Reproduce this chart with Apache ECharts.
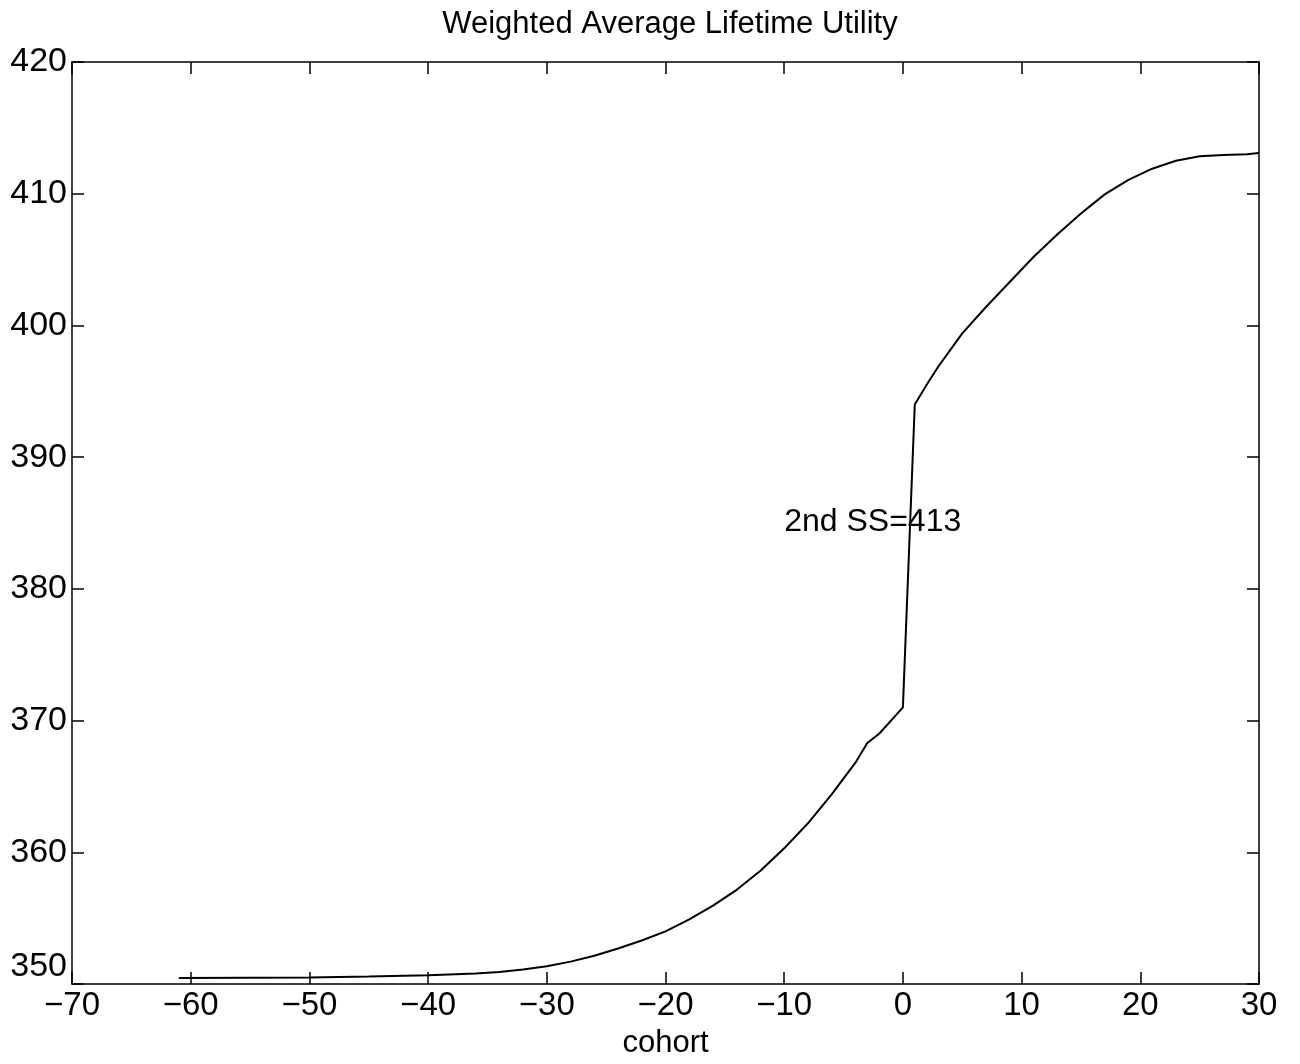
<!DOCTYPE html>
<html>
<head>
<meta charset="utf-8">
<title>Weighted Average Lifetime Utility</title>
<script src="https://cdn.jsdelivr.net/npm/echarts@6/dist/echarts.min.js"></script>
<style>
  html, body { margin: 0; padding: 0; background: #fff; }
  #chart { width: 1300px; height: 1064px; }
</style>
</head>
<body>
<div id="chart"></div>
<script>
// cohort (x) and utility (y)
var cohorts = [-61, -55, -50, -45, -40, -36, -34, -32, -30, -28, -26, -24, -22, -20, -18, -16, -14, -12, -10, -8, -6, -4, -3, -2, -1, 0,
  1, 2, 3, 5, 7, 9, 11, 13, 15, 17, 19, 21, 23, 25, 27, 29, 30]
var utility = [350.45, 350.47, 350.5, 350.56, 350.66, 350.8, 350.92, 351.1, 351.35, 351.7, 352.15, 352.7, 353.3, 354.0, 354.9, 355.95, 357.15, 358.6, 360.3, 362.2, 364.4, 366.8, 368.3, 369.0, 370.0, 371.0,
  394.0, 395.5, 396.9, 399.4, 401.4, 403.3, 405.2, 406.9, 408.5, 409.95, 411.05, 411.9, 412.5, 412.85, 412.93, 413.0, 413.1]

var xTicks = [-70, -60, -50, -40, -30, -20, -10, 0, 10, 20, 30]
var yTicks = [350, 360, 370, 380, 390, 400, 410, 420]

var titleText = 'Weighted Average Lifetime Utility'
var xLabel = 'cohort'
var noteText = '2nd SS=413'
var notePos = [-10, 385.1]

var font = 'Liberation Sans, Arial, Helvetica, sans-serif'

var points = cohorts.map(function(c, i) { return [c, utility[i]] })

function fmt(v) {
  return v < 0 ? '\u2212' + Math.abs(v) : String(v)
}

var tickStyle = { show: true, inside: true, length: 12, lineStyle: { color: '#000', width: 1.5 } }
var lineStyle = { color: '#000', width: 1.5 }

var option = {
  backgroundColor: '#fff',
  animation: false,
  title: {
    text: titleText,
    left: 665,
    textAlign: 'center',
    top: 4,
    textStyle: { fontFamily: font, fontSize: 31, fontWeight: 'normal', color: '#000' }
  },
  grid: { left: 72, right: 41, top: 62, bottom: 79 },
  xAxis: [
    {
      type: 'value',
      min: xTicks[0],
      max: xTicks[xTicks.length - 1],
      interval: 10,
      position: 'bottom',
      name: xLabel,
      nameLocation: 'middle',
      nameGap: 44,
      nameTextStyle: { fontFamily: font, fontSize: 31, color: '#000' },
      axisLine: { show: true, onZero: false, lineStyle: lineStyle },
      axisTick: tickStyle,
      axisLabel: { fontFamily: font, fontSize: 33, color: '#000', margin: 5, formatter: fmt },
      splitLine: { show: false }
    },
    {
      type: 'value',
      min: xTicks[0],
      max: xTicks[xTicks.length - 1],
      interval: 10,
      position: 'top',
      axisLine: { show: true, onZero: false, lineStyle: lineStyle },
      axisTick: tickStyle,
      axisLabel: { show: false },
      splitLine: { show: false }
    }
  ],
  yAxis: [
    {
      type: 'value',
      min: yTicks[0],
      max: yTicks[yTicks.length - 1],
      interval: 10,
      position: 'left',
      axisLine: { show: true, onZero: false, lineStyle: lineStyle },
      axisTick: tickStyle,
      axisLabel: {
        fontFamily: font, fontSize: 34, color: '#000', margin: 5,
        verticalAlignMinLabel: 'bottom'
      },
      splitLine: { show: false }
    },
    {
      type: 'value',
      min: yTicks[0],
      max: yTicks[yTicks.length - 1],
      interval: 10,
      position: 'right',
      axisLine: { show: true, onZero: false, lineStyle: lineStyle },
      axisTick: tickStyle,
      axisLabel: { show: false },
      splitLine: { show: false }
    }
  ],
  series: [
    {
      name: 'utility',
      type: 'line',
      data: points,
      showSymbol: false,
      smooth: false,
      lineStyle: { color: '#000', width: 2 },
      z: 3
    },
    {
      name: 'note',
      type: 'scatter',
      data: [notePos],
      symbolSize: 0,
      silent: true,
      itemStyle: { opacity: 1, color: '#000' },
      label: {
        show: true,
        position: 'right',
        distance: 0,
        formatter: noteText,
        fontFamily: font,
        fontSize: 32,
        color: '#000'
      },
      z: 4
    }
  ]
}

var chart = echarts.init(document.getElementById('chart'))
chart.setOption(option)
</script>
</body>
</html>
